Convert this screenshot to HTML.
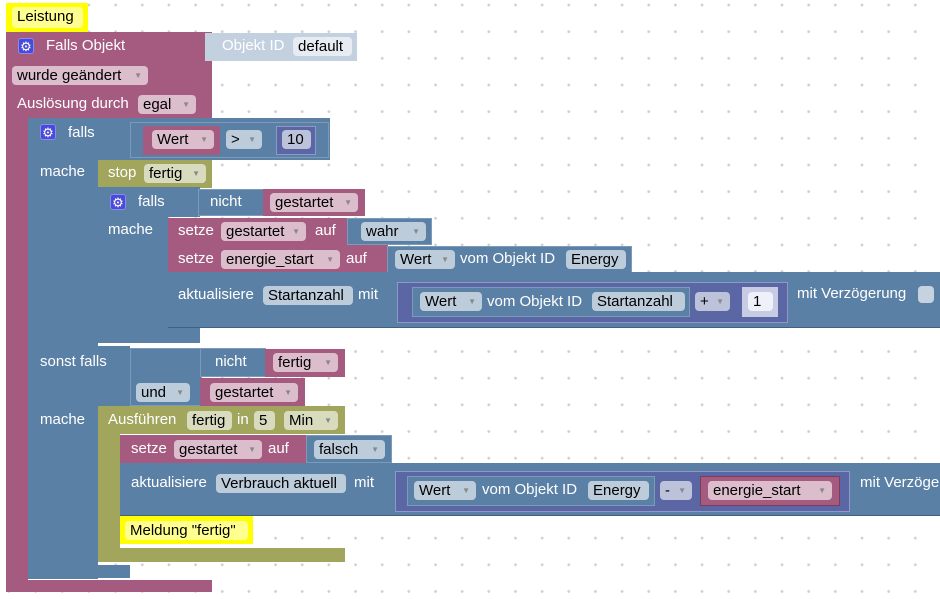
<!DOCTYPE html>
<html><head><meta charset="utf-8"><style>
body{margin:0;width:940px;height:599px;overflow:hidden;background:#fff;font-family:"Liberation Sans",Arial,sans-serif;font-size:15px;position:relative;
background-image:linear-gradient(#d6d6d6,#d6d6d6),linear-gradient(#d6d6d6,#d6d6d6);
background-size:26.67px 26.67px,26.67px 26.67px;}
.g{position:absolute;left:0;top:0;width:940px;height:599px;
background-image:radial-gradient(circle at 2px 2px,#d0d0d0 1.2px,transparent 1.6px);background-size:26.67px 26.67px;background-position:7px 3px;}
.b{position:absolute;box-sizing:border-box}
.m{background:#a55b80}.u{background:#5b80a5}.o{background:#a1a65c}.d{background:#5b67a5;border:1px solid #8f98c8}
.y{background:#ffff00}
.bd{border:1px solid #7c9bbb}
.t{position:absolute;color:#fff;line-height:18px;white-space:nowrap}
.f{position:absolute;height:19px;line-height:19px;border-radius:4px;background:rgba(255,255,255,.6);color:#000;white-space:nowrap;box-sizing:border-box;padding-left:5px}
.f i{font-style:normal;font-size:8px;color:#888;position:absolute;right:6px;top:0}
.gear{position:absolute;width:16px;height:16px;background:#4a4ad8;border-radius:3px;color:#fff;font-size:13px;line-height:16px;text-align:center;border:1px solid #8a8af0;box-sizing:border-box}
</style></head><body>
<div class="g"></div>
<style>body{background-image:none}</style>

<!-- Leistung -->
<div class="b y" style="left:6px;top:3px;width:82px;height:30px"></div>
<div class="f" style="left:12px;top:7px;width:71px;height:21px;background:#ffff90;">Leistung</div>

<!-- event block -->
<div class="b m" style="left:6px;top:32px;width:206px;height:86px"></div>
<div class="b m" style="left:6px;top:117px;width:22px;height:465px"></div>
<div class="b m" style="left:6px;top:580px;width:206px;height:12px"></div>
<div class="gear" style="left:18px;top:38px">⚙</div>
<div class="t" style="left:46px;top:37px">Falls Objekt</div>
<div class="b" style="left:205px;top:33px;width:152px;height:28px;background:#c3d0e0"></div>
<div class="t" style="left:222px;top:37px">Objekt ID</div>
<div class="f" style="left:293px;top:37px;width:59px">default</div>
<div class="f" style="left:12px;top:66px;width:136px">wurde geändert<i>▼</i></div>
<div class="t" style="left:17px;top:95px">Auslösung durch</div>
<div class="f" style="left:138px;top:95px;width:58px">egal<i>▼</i></div>

<!-- falls block -->
<div class="b u" style="left:28px;top:118px;width:302px;height:42px"></div>
<div class="b u" style="left:28px;top:159px;width:70px;height:420px"></div>
<div class="b u" style="left:28px;top:565px;width:102px;height:13px"></div>
<div class="gear" style="left:40px;top:124px">⚙</div>
<div class="t" style="left:68px;top:124px">falls</div>
<div class="b bd u" style="left:130px;top:122px;width:199px;height:36px"></div>
<div class="b m" style="left:143px;top:126px;width:77px;height:29px"></div>
<div class="f" style="left:152px;top:130px;width:62px">Wert<i>▼</i></div>
<div class="f" style="left:226px;top:130px;width:36px">&gt;<i>▼</i></div>
<div class="b d" style="left:276px;top:126px;width:40px;height:29px"></div>
<div class="f" style="left:282px;top:130px;width:29px">10</div>
<div class="t" style="left:40px;top:163px">mache</div>

<!-- stop -->
<div class="b o" style="left:98px;top:160px;width:114px;height:28px"></div>
<div class="t" style="left:108px;top:164px">stop</div>
<div class="f" style="left:144px;top:164px;width:62px">fertig<i>▼</i></div>

<!-- inner falls -->
<div class="b u" style="left:98px;top:187px;width:102px;height:30px"></div>
<div class="b u" style="left:98px;top:215px;width:70px;height:128px"></div>
<div class="b u" style="left:98px;top:328px;width:102px;height:15px"></div>
<div class="b u bd" style="left:198px;top:189px;width:66px;height:27px"></div>
<div class="b m" style="left:263px;top:189px;width:102px;height:27px"></div>
<div class="gear" style="left:110px;top:194px">⚙</div>
<div class="t" style="left:138px;top:193px">falls</div>
<div class="t" style="left:210px;top:193px">nicht</div>
<div class="f" style="left:270px;top:193px;width:88px">gestartet<i>▼</i></div>
<div class="t" style="left:108px;top:221px">mache</div>

<!-- setze gestartet wahr -->
<div class="b m" style="left:168px;top:218px;width:180px;height:28px"></div>
<div class="t" style="left:178px;top:222px">setze</div>
<div class="f" style="left:221px;top:222px;width:85px">gestartet<i>▼</i></div>
<div class="t" style="left:315px;top:222px">auf</div>
<div class="b u bd" style="left:347px;top:218px;width:85px;height:27px"></div>
<div class="f" style="left:361px;top:222px;width:65px">wahr<i>▼</i></div>

<!-- setze energie_start -->
<div class="b m" style="left:168px;top:245px;width:220px;height:28px"></div>
<div class="t" style="left:178px;top:250px">setze</div>
<div class="f" style="left:221px;top:250px;width:119px">energie_start<i>▼</i></div>
<div class="t" style="left:346px;top:250px">auf</div>
<div class="b u bd" style="left:387px;top:246px;width:245px;height:27px"></div>
<div class="f" style="left:395px;top:250px;width:60px">Wert<i>▼</i></div>
<div class="t" style="left:460px;top:250px">vom Objekt ID</div>
<div class="f" style="left:566px;top:250px;width:60px">Energy</div>

<!-- aktualisiere 1 -->
<div class="b u" style="left:168px;top:272px;width:772px;height:56px;border-bottom:1px solid #44607e"></div>
<div class="t" style="left:178px;top:286px">aktualisiere</div>
<div class="f" style="left:263px;top:286px;width:90px">Startanzahl</div>
<div class="t" style="left:358px;top:286px">mit</div>
<div class="b d" style="left:397px;top:282px;width:391px;height:41px"></div>
<div class="b u bd" style="left:412px;top:287px;width:278px;height:30px"></div>
<div class="f" style="left:420px;top:292px;width:62px">Wert<i>▼</i></div>
<div class="t" style="left:487px;top:293px">vom Objekt ID</div>
<div class="f" style="left:592px;top:292px;width:93px">Startanzahl</div>
<div class="f" style="left:695px;top:292px;width:35px">+<i>▼</i></div>
<div class="b" style="left:742px;top:287px;width:36px;height:30px;background:#c8cbe4"></div>
<div class="f" style="left:748px;top:292px;width:25px;background:#eef0fa">1</div>
<div class="t" style="left:797px;top:285px">mit Verzögerung</div>
<div class="b" style="left:918px;top:286px;width:16px;height:17px;border-radius:4px;background:#c7d2e0"></div>

<!-- sonst falls -->
<div class="b u" style="left:28px;top:346px;width:102px;height:60px"></div>
<div class="b u bd" style="left:130px;top:348px;width:72px;height:58px"></div>
<div class="b u bd" style="left:200px;top:348px;width:66px;height:29px"></div>
<div class="b m" style="left:265px;top:349px;width:80px;height:28px"></div>
<div class="b m" style="left:200px;top:378px;width:105px;height:28px"></div>
<div class="t" style="left:40px;top:353px">sonst falls</div>
<div class="t" style="left:215px;top:353px">nicht</div>
<div class="f" style="left:273px;top:353px;width:65px">fertig<i>▼</i></div>
<div class="f" style="left:136px;top:383px;width:54px">und<i>▼</i></div>
<div class="f" style="left:210px;top:383px;width:88px">gestartet<i>▼</i></div>
<div class="t" style="left:40px;top:411px">mache</div>

<!-- Ausführen -->
<div class="b o" style="left:98px;top:406px;width:247px;height:28px"></div>
<div class="b o" style="left:98px;top:432px;width:22px;height:130px"></div>
<div class="b o" style="left:98px;top:548px;width:247px;height:14px"></div>
<div class="t" style="left:108px;top:411px">Ausführen</div>
<div class="f" style="left:187px;top:411px;width:45px">fertig</div>
<div class="t" style="left:237px;top:411px">in</div>
<div class="f" style="left:254px;top:411px;width:21px">5</div>
<div class="f" style="left:284px;top:411px;width:54px">Min<i>▼</i></div>

<!-- setze gestartet falsch -->
<div class="b m" style="left:120px;top:435px;width:187px;height:29px"></div>
<div class="t" style="left:131px;top:440px">setze</div>
<div class="f" style="left:174px;top:440px;width:88px">gestartet<i>▼</i></div>
<div class="t" style="left:268px;top:440px">auf</div>
<div class="b u bd" style="left:306px;top:435px;width:86px;height:28px"></div>
<div class="f" style="left:314px;top:440px;width:71px">falsch<i>▼</i></div>

<!-- aktualisiere 2 -->
<div class="b u" style="left:120px;top:463px;width:820px;height:53px;border-bottom:1px solid #44607e"></div>
<div class="t" style="left:131px;top:474px">aktualisiere</div>
<div class="f" style="left:216px;top:474px;width:130px">Verbrauch aktuell</div>
<div class="t" style="left:354px;top:474px">mit</div>
<div class="b d" style="left:395px;top:471px;width:455px;height:41px"></div>
<div class="b u bd" style="left:407px;top:476px;width:248px;height:30px"></div>
<div class="f" style="left:414px;top:481px;width:62px">Wert<i>▼</i></div>
<div class="t" style="left:482px;top:481px">vom Objekt ID</div>
<div class="f" style="left:588px;top:481px;width:61px">Energy</div>
<div class="f" style="left:660px;top:481px;width:32px">-<i>▼</i></div>
<div class="b m" style="left:700px;top:476px;width:140px;height:30px;border:1px solid #7a3d5c"></div>
<div class="f" style="left:708px;top:481px;width:124px">energie_start<i>▼</i></div>
<div class="t" style="left:860px;top:474px">mit Verzöge</div>

<!-- Meldung -->
<div class="b y" style="left:120px;top:516px;width:133px;height:28px"></div>
<div class="f" style="left:125px;top:521px;width:123px;background:#ffff90">Meldung "fertig"</div>
</body></html>
